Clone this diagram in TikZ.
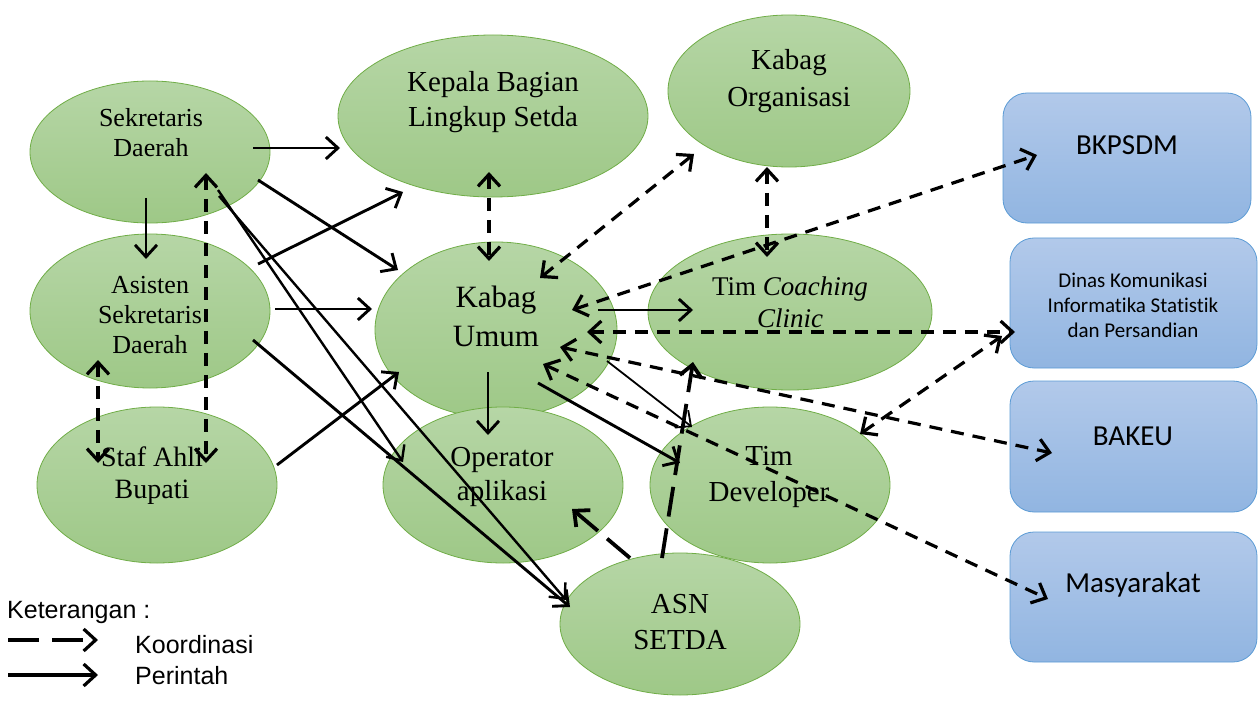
\documentclass[tikz,border=0pt]{standalone}
\usepackage{fontspec}
\setmainfont{Liberation Serif}
\newfontfamily\boxfont[Ligatures=NoCommon]{Carlito}
\newfontfamily\legfont{Liberation Sans}
\usetikzlibrary{shapes.geometric,arrows.meta}
\definecolor{gtop}{RGB}{182,214,166}
\definecolor{gbot}{RGB}{158,200,135}
\definecolor{gline}{RGB}{112,173,71}
\definecolor{btop}{RGB}{178,201,234}
\definecolor{bbot}{RGB}{145,181,225}
\definecolor{bline}{RGB}{91,155,213}
\tikzset{
  chev/.tip={Straight Barb[length=12bp,width=22bp]},
  unit/.style={ellipse, draw=gline, line width=0.8bp, top color=gtop, bottom color=gbot, inner sep=0pt},
  agency/.style={rectangle, rounded corners=24bp, draw=bline, line width=0.8bp, top color=btop, bottom color=bbot, inner sep=0pt},
  lbl/.style={align=center, inner sep=0pt},
  perintah/.style={line width=2.9bp, -chev},
  koor/.style={line width=3.2bp, dash pattern=on 13bp off 9bp, chev-chev},
  koorlong/.style={line width=3.8bp, dash pattern=on 30bp off 12bp, -chev},
}
\newcommand{\sz}[2]{\fontsize{#1bp}{#2bp}\selectfont}
\begin{document}
\begin{tikzpicture}[x=1bp, y=-1bp]
\useasboundingbox (0,0) rectangle (1259,705);

% organisational units (ellipses)
\node[unit, minimum width=240bp, minimum height=142bp] (sek)  at (150,152) {};
\node[unit, minimum width=240bp, minimum height=154bp] (asi)  at (150,311) {};
\node[unit, minimum width=240bp, minimum height=156bp] (staf) at (157,485) {};
\node[unit, minimum width=310bp, minimum height=162bp] (kep)  at (493,116) {};
\node[unit, minimum width=242bp, minimum height=152bp] (org)  at (789,91)  {};
\node[unit, minimum width=242bp, minimum height=176bp] (umum) at (496,330) {};
\node[unit, minimum width=284bp, minimum height=156bp] (tcc)  at (790,312) {};
\node[unit, minimum width=240bp, minimum height=156bp] (opr)  at (503,485) {};
\node[unit, minimum width=240bp, minimum height=156bp] (dev)  at (770,485) {};
\node[unit, minimum width=240bp, minimum height=142bp] (asn)  at (680,624) {};

% external agencies (rounded boxes)
\node[agency, minimum width=248bp, minimum height=130bp] (bkp) at (1127,158)   {};
\node[agency, minimum width=247bp, minimum height=130bp] (din) at (1133.5,303) {};
\node[agency, minimum width=247bp, minimum height=131bp] (bak) at (1133.5,446.5) {};
\node[agency, minimum width=247bp, minimum height=130bp] (mas) at (1133.5,597) {};

% unit labels
\node[lbl, font=\sz{26}{30}] (sek-t)  at (151,133) {Sekretaris\\Daerah};
\node[lbl, font=\sz{26}{30}] (asi-t)  at (150,315) {Asisten\\Sekretaris\\Daerah};
\node[lbl, font=\sz{28}{32}] (staf-t) at (152,476) {Staf Ahli\\Bupati};
\node[lbl, font=\sz{29}{35}] (kep-t)  at (493,102) {Kepala Bagian\\Lingkup Setda};
\node[lbl, font=\sz{29}{37}] (org-t)  at (789,81)  {Kabag\\Organisasi};
\node[lbl, font=\sz{31}{39}] (umum-t) at (496,316) {Kabag\\Umum};
\node[lbl, font=\sz{27}{32}] (tcc-t)  at (790,302) {Tim \textit{Coaching}\\\textit{Clinic}};
\node[lbl, font=\sz{29}{34}] (opr-t)  at (502,477) {Operator\\aplikasi};
\node[lbl, font=\sz{29}{36}] (dev-t)  at (769,477) {Tim\\Developer};
\node[lbl, font=\sz{29}{36}] (asn-t)  at (680,622) {ASN\\SETDA};

% agency labels
\node[lbl, font=\boxfont\sz{29}{34}] (bkp-t) at (1127,145) {BKPSDM};
\node[lbl, font=\boxfont\sz{21}{25}] (din-t) at (1133,305) {Dinas Komunikasi\\Informatika Statistik\\dan Persandian};
\node[lbl, font=\boxfont\sz{29}{34}] (bak-t) at (1133,436) {BAKEU};
\node[lbl, font=\boxfont\sz{29}{34}] (mas-t) at (1133,585) {Masyarakat};

% commands (solid arrows)
\draw[perintah] ([shift={(103,-4)}]sek.center) -- ([shift={(-153,32)}]kep.center);
\draw[perintah] ([shift={(108,28)}]sek.center) -- ([shift={(-98,-60)}]umum.center);
\draw[perintah] ([shift={(-4,46)}]sek.center) -- ([shift={(-4,-52)}]asi.center);
\draw[perintah] ([shift={(108,-47)}]asi.center) -- ([shift={(-90,76)}]kep.center);
\draw[perintah] ([shift={(125,-2)}]asi.center) -- ([shift={(-124,-21)}]umum.center);
\draw[perintah] ([shift={(103,29)}]asi.center) -- ([shift={(-110,-17)}]asn.center);
\draw[perintah, line width=2.4bp] ([shift={(68,38)}]sek.center) -- ([shift={(-100,-23)}]opr.center);
\draw[perintah, line width=2.4bp] ([shift={(69,44)}]sek.center) -- ([shift={(-114,-24)}]asn.center);
\draw[perintah] ([shift={(120,-20)}]staf.center) -- ([shift={(-97,42)}]umum.center);
\draw[perintah] ([shift={(-8,42)}]umum.center) -- ([shift={(-15,-50)}]opr.center);
\draw[perintah] ([shift={(102,-20)}]umum.center) -- ([shift={(-97,-2)}]tcc.center);
\draw[perintah, line width=1.8bp] ([shift={(111,31)}]umum.center) -- ([shift={(-78,-58)}]dev.center);
\draw[perintah] ([shift={(42,53)}]umum.center) -- ([shift={(-90,-22)}]dev.center);

% coordination (dashed arrows)
\draw[koor] ([shift={(56,21)}]sek.center) -- ([shift={(49,-22)}]staf.center);
\draw[koor] ([shift={(-52,49)}]asi.center) -- ([shift={(-59,-22)}]staf.center);
\draw[koor] ([shift={(-4,56)}]kep.center) -- ([shift={(-7,-69)}]umum.center);
\draw[koor] ([shift={(44,-52)}]umum.center) -- ([shift={(-95,63)}]org.center);
\draw[koor] ([shift={(-22,76)}]org.center) -- ([shift={(-23,-55)}]tcc.center);
\draw[koor] ([shift={(76,-20)}]umum.center) -- ([shift={(-90,-3)}]bkp.center);
\draw[koor] ([shift={(91,2)}]umum.center) -- ([shift={(-118.5,29)}]din.center);
\draw[koor] ([shift={(64,17)}]umum.center) -- ([shift={(-81.5,6.5)}]bak.center);
\draw[koor] ([shift={(47,34)}]umum.center) -- ([shift={(-85.5,2)}]mas.center);
\draw[koor] ([shift={(90,-51)}]dev.center) -- ([shift={(-131.5,33)}]din.center);
\draw[koorlong] ([shift={(-50,-66)}]asn.center) -- ([shift={(69,24)}]opr.center);
\draw[koorlong] ([shift={(-18,-66)}]asn.center) -- ([shift={(-97,50)}]tcc.center);

% legend
\node[anchor=west, inner sep=0pt, font=\legfont\sz{25}{30}] (leg-t) at (7,612) {Keterangan :};
\coordinate (lk1) at (8,640);
\coordinate (lk2) at (98,640);
\coordinate (lp1) at (8,675);
\coordinate (lp2) at (98,675);
\draw[line width=3.2bp, dash pattern=on 31bp off 13bp, -chev] (lk1) -- (lk2);
\draw[line width=3.2bp, -chev] (lp1) -- (lp2);
\node[anchor=west, inner sep=0pt, font=\legfont\sz{25}{30}] (leg-k) at (135,645) {Koordinasi};
\node[anchor=west, inner sep=0pt, font=\legfont\sz{25}{30}] (leg-p) at (135,676) {Perintah};
\end{tikzpicture}
\end{document}
